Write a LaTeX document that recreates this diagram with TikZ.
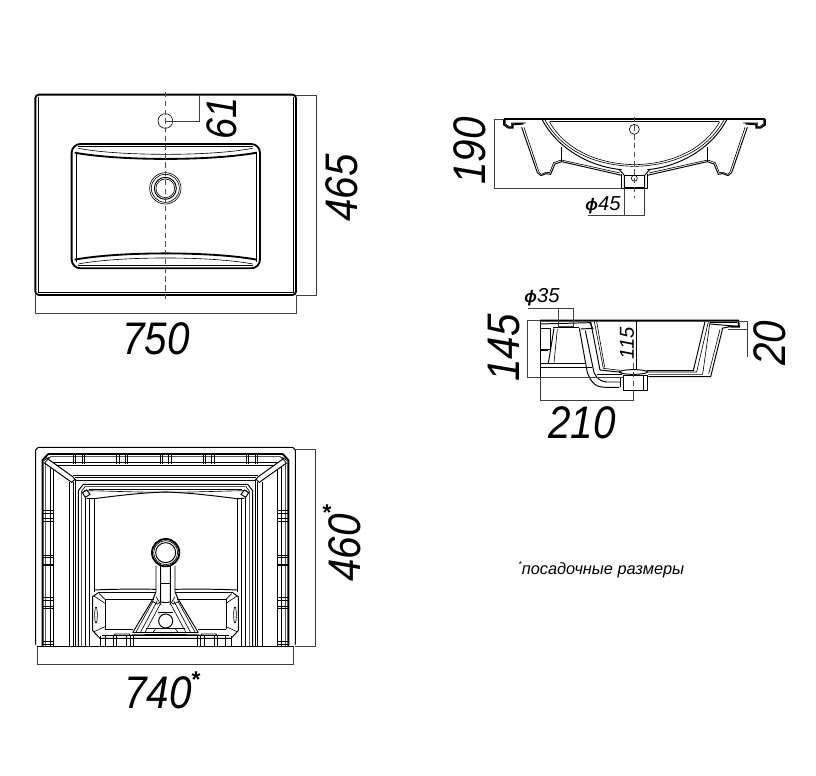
\documentclass[tikz,border=0pt]{standalone}
\usepackage{fontspec}
\setmainfont{Liberation Sans}
\usepackage{tikz}
\usetikzlibrary{positioning,calc}
\tikzset{
  heavy/.style={line width=1.05pt,black},
  medium/.style={line width=0.55pt,black},
  fine/.style={line width=0.35pt,black},
  dimline/.style={line width=0.4pt,black!75},
  axisline/.style={line width=0.35pt,black!70,dash pattern=on 3pt off 2pt},
  bigdim/.style={inner sep=0pt,font=\fontsize{23}{24}\selectfont\itshape},
  smalldim/.style={inner sep=0pt,font=\fontsize{11.5}{12}\selectfont\itshape},
  note/.style={inner sep=0pt,font=\fontsize{9.3}{10}\selectfont\itshape}
}
\newcommand{\tall}[1]{\scalebox{1}[1.13]{#1}}
% one crescent of the bowl in the top view
\newcommand{\crescent}{
  \draw[heavy] (164,218) .. controls (300,243) and (575,243) .. (710,218);
  \draw[fine] (175,205) .. controls (300,229) and (575,229) .. (698,205);
  \draw[medium] (175,200) -- (698,200);
}
% one half of the front section
\newcommand{\frontside}{
  \draw[heavy] (192,57) -- (192,74) -- (205,83) -- (218,83) -- (218,73) -- (250,71);
  \draw[fine] (197,60) -- (197,72) -- (207,79) -- (214,79) -- (214,69) -- (258,69);
  \draw[medium] (245,82) -- (292,218) -- (303,227) -- (318,221) -- (332,223) -- (345,192) -- (365,185) -- (545,226);
  \draw[fine] (252,82) -- (297,216) -- (304,223) -- (318,217) -- (329,218) -- (341,188) -- (364,180) -- (540,219);
  \draw[medium] (306,58) .. controls (360,160) and (470,203) .. (545,209);
  \draw[fine] (314,58) .. controls (366,155) and (470,197) .. (583,199);
  \draw[fine] (328,65) .. controls (376,150) and (475,192) .. (583,194);
  \draw[fine] (330,65) -- (583,65);
  \draw[medium] (365,140) -- (365,185);
  \draw[medium] (538,209) -- (553,226) -- (553,263);
  \draw[medium] (545,222) -- (545,265) -- (583,265);
  \draw[fine] (553,226) -- (583,226);
}
% one half of the under side
\newcommand{\underside}{
  \draw[medium] (47,614) -- (47,30) -- (55,22) -- (437,22);
  \draw[fine] (52,620) -- (437,620);
  \draw[heavy] (68,620) -- (68,60) -- (85,42) -- (437,42);
  \draw[fine] (76,620) -- (76,66) -- (92,50) -- (437,50);
  \draw[medium] (90,620) -- (90,80);
  \draw[fine] (100,620) -- (100,86);
  \draw[medium] (100,68) -- (437,68);
  \draw[fine] (108,75) -- (437,75);
  \draw[medium] (80,54) -- (158,110) -- (165,118) -- (155,127) -- (100,88) -- (72,68);
  \draw[fine] (86,52) -- (72,62);
  \draw[medium] (147,620) -- (147,125);
  \draw[fine] (160,620) -- (160,127);
  \draw[fine] (166,620) -- (166,118);
  \draw[medium] (160,106) -- (437,106);
  \draw[fine] (165,112) -- (437,112);
  \draw[fine] (166,120) -- (437,120);
  \draw[medium] (175,620) -- (175,152) -- (190,133) -- (437,133);
  \draw[fine] (184,620) -- (184,155) -- (195,140) -- (437,140);
  \draw[fine] (197,620) -- (197,172);
  \draw[fine] (208,620) -- (208,175);
  \draw[medium] (222,455) -- (222,176);
  \draw[medium] (200,175) -- (222,176) .. controls (300,166) and (370,158) .. (437,156);
  \draw[fine] (192,152) .. controls (280,153) and (370,158) .. (437,156);
  \draw[fine] (207,147) -- (437,147);
  \draw[medium] (187,158) -- (200,150) -- (210,163) -- (196,172) -- cycle;
  \foreach \ribx in {160,166,187,193,290,298,317,323,420,428}
    \draw[medium] (\ribx,44) -- (\ribx,72);
  \foreach \riby in {212,220,235,245,345,352,372,377,472,480,498,505,603,612}
    \draw[medium] (68,\riby) -- (100,\riby);
  % bowl floor
  \draw[medium] (222,450) .. controls (290,447) and (350,447) .. (408,448);
  \draw[medium] (235,458) -- (405,458);
  \draw[medium] (235,458) -- (218,470) -- (218,572) -- (240,595) -- (437,595);
  \draw[fine] (255,478) -- (402,478);
  \draw[fine] (255,478) -- (255,568);
  \draw[fine] (222,468) -- (255,490);
  \draw[fine] (238,461) -- (255,478);
  \draw[fine] (222,575) -- (255,560);
  \draw[fine] (255,568) -- (340,568);
  \draw[fine] (245,585) -- (437,585);
  \draw[fine] (228,525) ellipse [x radius=4,y radius=24];
  \foreach \legx in {240,257,280,290,320,332,340}
    \draw[medium] (\legx,588) -- (\legx,620);
  \draw[medium] (280,590) -- (285,582) -- (328,582) -- (332,590);
  % waste pipe
  \draw[medium] (408,378) -- (408,455) -- (400,475) -- (338,578);
  \draw[medium] (422,378) -- (422,486) -- (437,488);
  \draw[fine] (422,430) -- (437,430);
  \draw[fine] (400,482) -- (348,576);
  \draw[fine] (412,482) -- (362,576);
  \draw[fine] (422,490) -- (376,576);
  \draw[fine] (408,470) -- (424,496);
  \draw[fine] (396,484) -- (412,492) -- (422,486);
  \draw[medium] (338,578) -- (437,578);
  \draw[medium] (335,585) -- (437,583);
  \draw[fine] (378,565) -- (437,565);
  \draw[fine] (398,578) -- (408,565);
  \draw[fine] (415,516) -- (437,516);
}
\begin{document}
\begin{tikzpicture}[x=0.02cm,y=-0.02cm]
 \useasboundingbox (0,0) rectangle (816,776);
 % top view
 \begin{scope}[shift={(20,80)},scale=1/3]
  \draw[heavy,rounded corners=2pt] (46,44) rectangle (828,645);
  \draw[fine] (54,52) -- (54,636) -- (820,636) -- (820,52);
  \draw[heavy,rounded corners=5pt] (155,192) rectangle (720,565);
  \draw[fine] (168,215) -- (168,545);
  \draw[fine] (708,215) -- (708,545);
  \crescent
  \begin{scope}[shift={(0,757)},yscale=-1]
   \crescent
  \end{scope}
  \draw[fine] (436,325) circle [radius=47];
  \draw[fine] (436,325) circle [radius=42];
  \draw[medium] (436,325) circle [radius=33];
  \draw[fine] (436,325) circle [radius=28];
  \draw[fine] (436,123) circle [radius=22];
  \draw[axisline] (436,36) -- (436,660);
  \draw[dimline] (436,123) -- (538,123) -- (538,44);
  \draw[dimline] (828,45) -- (889,45) -- (889,645) -- (828,645);
  \draw[dimline] (46,645) -- (46,700) -- (828,700) -- (828,645);
 \end{scope}
 \node[bigdim] (top width) at (156,339) {\tall{750}};
 \node[bigdim,rotate=90] (top depth) at (342,188) {\tall{465}};
 \node[bigdim,rotate=90,font=\fontsize{21.5}{24}\selectfont\itshape] (tap offset) at (222,118) {\tall{61}};
 % front section
 \begin{scope}[shift={(440,100)},scale=1/3]
  \draw[heavy] (192,57) -- (975,57);
  \frontside
  \begin{scope}[shift={(1167,0)},xscale=-1]
   \frontside
  \end{scope}
  \draw[medium] (553,263) -- (614,263);
  \draw[fine] (583,88) circle [radius=15];
  \draw[fine] (583,235) circle [radius=9];
  \draw[axisline] (583,50) -- (583,295);
  \draw[dimline] (192,57) -- (163,57) -- (163,265) -- (545,265);
  \draw[dimline] (553,265) -- (553,347);
  \draw[dimline] (612,265) -- (612,347);
  \draw[dimline] (443,347) -- (612,347);
 \end{scope}
 \node[bigdim,rotate=90] (front height) at (470,151) {\tall{190}};
 \node[smalldim] (waste dia) at (603,205) {{\fontsize{9.5}{12}\selectfont\bfseries ϕ}45};
 % side section
 \begin{scope}[shift={(480,280)},scale=1/3]
  \draw[heavy] (180,122) -- (775,122) -- (777,140) -- (752,140);
  \draw[fine] (690,128) -- (770,128);
  \draw[medium] (690,132) -- (760,138) -- (725,145);
  \draw[medium] (728,145) -- (692,290) -- (505,290);
  \draw[fine] (720,148) -- (686,282);
  % bowl
  \draw[medium] (332,125) -- (360,270) -- (425,277);
  \draw[fine] (343,125) -- (370,265) -- (420,271);
  \draw[fine] (350,125) -- (374,262);
  \draw[medium] (500,272) -- (640,272) -- (675,125);
  \draw[fine] (500,276) -- (650,276) -- (685,125);
  \draw[fine] (505,283) -- (668,283) -- (690,125);
  \draw[medium] (470,122) -- (470,268);
  % waste
  \draw[medium] (460,276) ellipse [x radius=42,y radius=7];
  \draw[medium] (430,285) -- (500,285);
  \draw[medium] (420,290) -- (420,322);
  \draw[medium] (430,285) -- (430,330) -- (503,330) -- (503,285);
  \draw[medium] (490,285) -- (490,330);
  % left side
  \draw[medium] (180,122) -- (180,292);
  \draw[medium] (180,132) -- (330,128) -- (338,145) -- (302,147);
  \draw[medium] (220,143) -- (298,143);
  \draw[medium] (222,145) -- (205,250);
  \draw[fine] (232,147) -- (222,248);
  \draw[medium] (182,145) -- (210,145) -- (210,208) -- (182,208);
  \draw[fine] (182,212) -- (205,212);
  \draw[medium] (180,250) -- (316,250);
  \draw[medium] (180,262) -- (335,262);
  \draw[medium] (298,145) -- (322,278) .. controls (335,312) and (350,322) .. (378,322) -- (418,322);
  \draw[medium] (316,152) -- (342,278) .. controls (350,295) and (362,305) .. (380,306) -- (420,306);
  \draw[fine] (350,282) -- (425,282);
  \draw[axisline] (460,250) -- (460,330);
  \draw[dimline] (235,85) -- (235,140) -- (281,140) -- (281,85);
  \draw[dimline] (143,85) -- (281,85);
  \draw[dimline] (180,122) -- (143,122) -- (143,292) -- (430,292);
  \draw[dimline] (180,292) -- (180,360) -- (460,360) -- (460,330);
  \draw[dimline] (775,125) -- (803,125) -- (803,230);
  \draw[dimline] (745,147) -- (803,147);
 \end{scope}
 \node[bigdim] (side depth) at (582,423) {\tall{210}};
 \node[bigdim,rotate=90] (side height) at (504,348) {\tall{145}};
 \node[bigdim,rotate=90] (rim height) at (770,343) {\tall{20}};
 \node[smalldim,rotate=90] (bowl height) at (627,343) {115};
 \node[smalldim] (tap dia) at (542,297) {{\fontsize{9.5}{12}\selectfont\bfseries ϕ}35};
 % under side
 \begin{scope}[shift={(20,440)},scale=1/3]
  \underside
  \begin{scope}[shift={(873,0)},xscale=-1]
   \underside
  \end{scope}
  \draw[heavy] (437,338) circle [radius=41];
  \draw[fine] (437,338) circle [radius=36];
  \draw[medium] (437,338) circle [radius=30];
  \draw[medium] (437,543) circle [radius=21];
  \draw[dimline] (826,28) -- (885,28) -- (885,620) -- (826,620);
  \draw[dimline] (52,620) -- (52,673) -- (820,673) -- (820,620);
 \end{scope}
 \node[bigdim] (under width) at (158,693) {\tall{740}};
 \node[bigdim,rotate=90] (under depth) at (345,548) {\tall{460}};
 \node[inner sep=0pt,font=\fontsize{13}{14}\selectfont\bfseries] (width star) at (196,680) {*};
 \node[inner sep=0pt,font=\fontsize{13}{14}\selectfont\bfseries] (depth star) at (327,513) {*};
 % note
 \node[note,anchor=west] (fit note) at (518,570) {\raisebox{4pt}{\fontsize{5}{6}\selectfont *}посадочные размеры};
\end{tikzpicture}
\end{document}
